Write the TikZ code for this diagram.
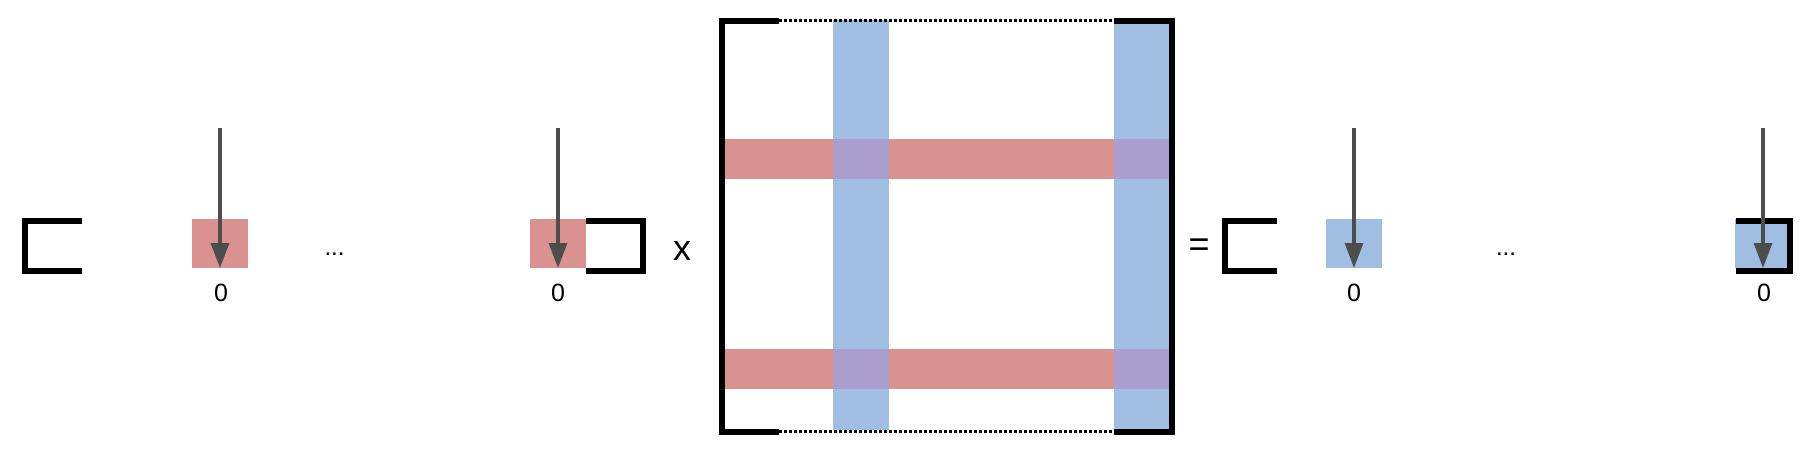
\documentclass[tikz,border=0pt]{standalone}
\usepackage{fontspec}
\setmainfont{Liberation Sans}
\usetikzlibrary{arrows.meta}
\definecolor{redf}{RGB}{218,146,144}
\definecolor{bluef}{RGB}{160,189,226}
\definecolor{purf}{RGB}{169,158,206}
\definecolor{arrowc}{RGB}{77,77,77}
\tikzset{
  brk/.style={draw=black,line width=3pt,line cap=butt,line join=miter},
  dotline/.style={draw=black,line width=1.25pt,dash pattern=on 1.5pt off 1pt},
  cell/.style={rectangle,draw=none,inner sep=0pt,outer sep=0pt,minimum width=28pt,minimum height=24.5pt},
  redcell/.style={cell,fill=redf},
  bluecell/.style={cell,fill=bluef},
  ptr/.style={draw=arrowc,line width=1.6pt,-{Triangle[length=12.5pt,width=9pt]}},
  num/.style={font=\fontsize{12.5pt}{14pt}\selectfont,inner sep=0pt,anchor=base},
  big/.style={font=\fontsize{18pt}{20pt}\selectfont,inner sep=0pt},
  dots/.style={font=\fontsize{12pt}{14pt}\selectfont,inner sep=0pt,anchor=base}
}
\begin{document}
\begin{tikzpicture}[x=0.5pt,y=-0.5pt]
\useasboundingbox (0,0) rectangle (1810,452);
% matrix fills
\fill[bluef] (833,20) rectangle (889,430);
\fill[bluef] (1114,20) rectangle (1169,430);
\fill[redf] (725,139) rectangle (1169,179);
\fill[redf] (725,349) rectangle (1169,389);
\fill[purf] (833,139) rectangle (889,179);
\fill[purf] (1114,139) rectangle (1169,179);
\fill[purf] (833,349) rectangle (889,389);
\fill[purf] (1114,349) rectangle (1169,389);
% matrix brackets
\draw[brk] (779,21) -- (722,21) -- (722,432) -- (779,432);
\draw[brk] (1114,21) -- (1172,21) -- (1172,432) -- (1114,432);
\draw[dotline] (779,20.5) -- (1114,20.5);
\draw[dotline] (779,431.5) -- (1114,431.5);
% left vector
\node[redcell] (r1) at (220,243.5) {};
\node[redcell] (r2) at (558,243.5) {};
\draw[brk] (82,221) -- (24.5,221) -- (24.5,270.5) -- (82,270.5);
\draw[brk] (586,221) -- (643,221) -- (643,270.5) -- (586,270.5);
\coordinate (a1) at (220,128);
\coordinate (a2) at (558,128);
\draw[ptr] (a1) -- (r1.south);
\draw[ptr] (a2) -- (r2.south);
\node[num] (z1) at (221,301) {0};
\node[num] (z2) at (558,301) {0};
\node[dots] (d1) at (334.5,255) {...};
\node[big] (times) at (682,250.5) {x};
\node[big] (eq) at (1199,247.5) {=};
% right vector
\node[bluecell] (b1) at (1354,243.5) {};
\node[bluecell] (b2) at (1763,243.5) {};
\draw[brk] (1277,221) -- (1225,221) -- (1225,270.5) -- (1277,270.5);
\draw[brk] (1736,221) -- (1789.5,221) -- (1789.5,270.5) -- (1736,270.5);
\coordinate (a3) at (1354,128);
\coordinate (a4) at (1763,128);
\draw[ptr] (a3) -- (b1.south);
\draw[ptr] (a4) -- (b2.south);
\node[num] (z3) at (1354,301) {0};
\node[num] (z4) at (1764,301) {0};
\node[dots] (d2) at (1506,255) {...};
\end{tikzpicture}
\end{document}
